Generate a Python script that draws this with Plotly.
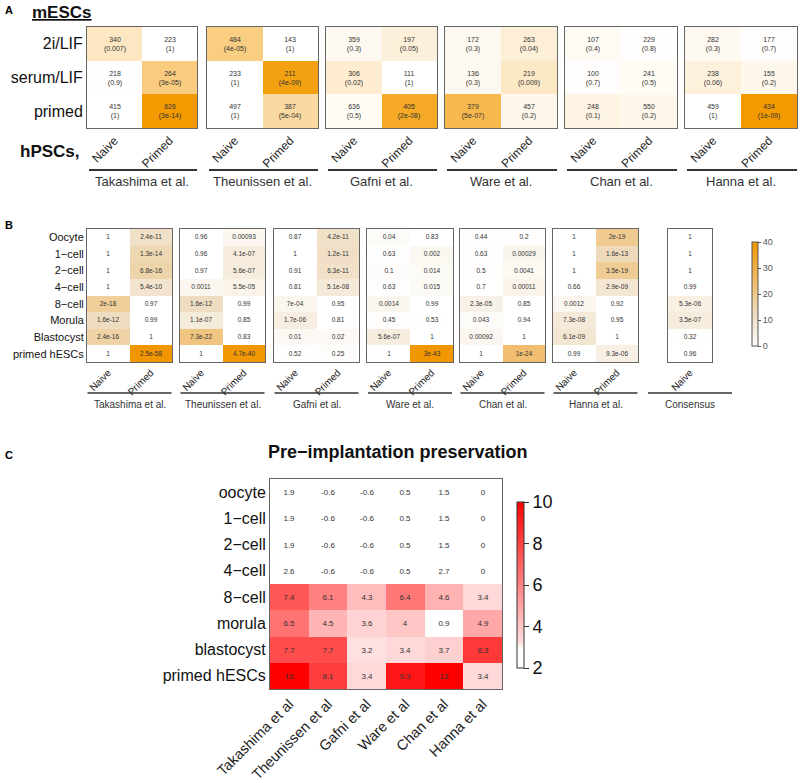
import math
import plotly.graph_objects as go

W, H = 800, 783
FONT = "Liberation Sans, Arial, sans-serif"


def fx(px):
    return px / W


def fy(py):
    return 1 - py / H


# ---------------- Panel A data ----------------
A_rows = ["2i/LIF", "serum/LIF", "primed"]
A_cols = ["Naive", "Primed"]
A_studies = ["Takashima et al.", "Theunissen et al.", "Gafni et al.",
             "Ware et al.", "Chan et al.", "Hanna et al."]
A_counts_takashima = [[340, 223], [218, 264], [415, 626]]
A_pvals_takashima = [["0.007", "1"], ["0.9", "3e-05"], ["1", "3e-14"]]
A_counts_theunissen = [[484, 143], [233, 211], [497, 387]]
A_pvals_theunissen = [["4e-05", "1"], ["1", "4e-09"], ["1", "5e-04"]]
A_counts_gafni = [[359, 197], [306, 111], [636, 405]]
A_pvals_gafni = [["0.3", "0.05"], ["0.02", "1"], ["0.5", "2e-08"]]
A_counts_ware = [[172, 263], [136, 219], [379, 457]]
A_pvals_ware = [["0.3", "0.04"], ["0.3", "0.009"], ["5e-07", "0.2"]]
A_counts_chan = [[107, 229], [100, 241], [248, 550]]
A_pvals_chan = [["0.4", "0.8"], ["0.7", "0.5"], ["0.1", "0.2"]]
A_counts_hanna = [[282, 177], [238, 155], [459, 434]]
A_pvals_hanna = [["0.3", "0.7"], ["0.06", "0.2"], ["1", "1e-09"]]

A_counts = [A_counts_takashima, A_counts_theunissen, A_counts_gafni,
            A_counts_ware, A_counts_chan, A_counts_hanna]
A_pvals = [A_pvals_takashima, A_pvals_theunissen, A_pvals_gafni,
           A_pvals_ware, A_pvals_chan, A_pvals_hanna]

# ---------------- Panel B data ----------------
B_rows = ["Oocyte", "1\u2212cell", "2\u2212cell", "4\u2212cell", "8\u2212cell",
          "Morula", "Blastocyst", "primed hESCs"]
B_studies = ["Takashima et al.", "Theunissen et al.", "Gafni et al.",
             "Ware et al.", "Chan et al.", "Hanna et al.", "Consensus"]
B_takashima_naive = ["1", "1", "1", "1", "2e-18", "1.6e-12", "2.4e-16", "1"]
B_takashima_primed = ["2.4e-11", "1.3e-14", "6.8e-16", "5.4e-10", "0.97", "0.99", "1", "2.5e-58"]
B_theunissen_naive = ["0.96", "0.96", "0.97", "0.0011", "1.6e-12", "1.1e-07", "7.3e-22", "1"]
B_theunissen_primed = ["0.00093", "4.1e-07", "5.6e-07", "5.5e-05", "0.99", "0.85", "0.83", "4.7e-40"]
B_gafni_naive = ["0.87", "1", "0.91", "0.81", "7e-04", "1.7e-06", "0.01", "0.52"]
B_gafni_primed = ["4.2e-11", "1.2e-11", "6.3e-11", "5.1e-08", "0.95", "0.81", "0.02", "0.25"]
B_ware_naive = ["0.04", "0.63", "0.1", "0.63", "0.0014", "0.45", "5.6e-07", "1"]
B_ware_primed = ["0.83", "0.002", "0.014", "0.015", "0.99", "0.53", "1", "3e-43"]
B_chan_naive = ["0.44", "0.63", "0.5", "0.7", "2.3e-05", "0.043", "0.00092", "1"]
B_chan_primed = ["0.2", "0.00029", "0.0041", "0.00011", "0.85", "0.94", "1", "1e-24"]
B_hanna_naive = ["1", "1", "1", "0.66", "0.0012", "7.3e-08", "6.1e-09", "0.99"]
B_hanna_primed = ["2e-19", "1.6e-13", "3.5e-19", "2.9e-09", "0.92", "0.95", "1", "9.3e-06"]
B_consensus_naive = ["1", "1", "1", "0.99", "5.3e-06", "3.5e-07", "0.32", "0.96"]

B_data = [
    (["Naive", "Primed"], [B_takashima_naive, B_takashima_primed]),
    (["Naive", "Primed"], [B_theunissen_naive, B_theunissen_primed]),
    (["Naive", "Primed"], [B_gafni_naive, B_gafni_primed]),
    (["Naive", "Primed"], [B_ware_naive, B_ware_primed]),
    (["Naive", "Primed"], [B_chan_naive, B_chan_primed]),
    (["Naive", "Primed"], [B_hanna_naive, B_hanna_primed]),
    (["Naive"], [B_consensus_naive]),
]

# ---------------- Panel C data ----------------
C_rows = ["oocyte", "1\u2212cell", "2\u2212cell", "4\u2212cell", "8\u2212cell",
          "morula", "blastocyst", "primed hESCs"]
C_cols = ["Takashima et al", "Theunissen et al", "Gafni et al",
          "Ware et al", "Chan et al", "Hanna et al"]
C_values = [
    [1.9, -0.6, -0.6, 0.5, 1.5, 0],
    [1.9, -0.6, -0.6, 0.5, 1.5, 0],
    [1.9, -0.6, -0.6, 0.5, 1.5, 0],
    [2.6, -0.6, -0.6, 0.5, 2.7, 0],
    [7.4, 6.1, 4.3, 6.4, 4.6, 3.4],
    [6.5, 4.5, 3.6, 4, 0.9, 4.9],
    [7.7, 7.7, 3.2, 3.4, 3.7, 8.3],
    [15, 8.1, 3.4, 9.3, 13, 3.4],
]

# ---------------- layout geometry (pixels) ----------------
A_boxes = [(87, 197), (207, 318), (326, 437), (445, 557), (565, 677), (685, 797)]
A_y = (27, 128)
B_boxes = [(87, 172), (180, 265), (274, 359), (367, 453), (460, 545), (553, 638), (668, 712)]
B_y = (229, 362)
C_box = (270, 502)
C_y = (479, 689)

fig = go.Figure()
layout = {}
counter = [0]


def add_heat(z, text, xcats, ycats, xbox, ybox, coloraxis, showy,
             xfont, yfont, textsize, linecolor):
    counter[0] += 1
    n = counter[0]
    sfx = "" if n == 1 else str(n)
    fig.add_trace(go.Heatmap(
        z=z, x=xcats, y=ycats, text=text, texttemplate="%{text}",
        textfont=dict(size=textsize, color="#333333", family=FONT),
        coloraxis=coloraxis, xaxis="x" + sfx, yaxis="y" + sfx,
        hoverinfo="skip"))
    layout["xaxis" + sfx] = dict(
        domain=[fx(xbox[0]), fx(xbox[1])], anchor="y" + sfx, type="category",
        showline=True, mirror=True, linecolor=linecolor, linewidth=1,
        ticks="", tickangle=-45, tickfont=dict(size=xfont, color="#222", family=FONT),
        showgrid=False, zeroline=False, fixedrange=True)
    layout["yaxis" + sfx] = dict(
        domain=[fy(ybox[1]), fy(ybox[0])], anchor="x" + sfx, type="category",
        autorange="reversed", showline=True, mirror=True, linecolor=linecolor,
        linewidth=1, ticks="", showticklabels=showy,
        tickfont=dict(size=yfont, color="#111", family=FONT),
        showgrid=False, zeroline=False, fixedrange=True)


# Panel A heatmaps
for i, (counts, pv) in enumerate(zip(A_counts, A_pvals)):
    z = [[-math.log10(float(p)) for p in row] for row in pv]
    text = [[f"{c}<br>({p})" for c, p in zip(crow, prow)] for crow, prow in zip(counts, pv)]
    add_heat(z, text, A_cols, A_rows, A_boxes[i], A_y, "coloraxis", i == 0,
             12, 16, 7, "#666")

# Panel B heatmaps
for i, (cols, colvals) in enumerate(B_data):
    z = [[-math.log10(float(colvals[c][r])) for c in range(len(cols))] for r in range(len(B_rows))]
    text = [[colvals[c][r] for c in range(len(cols))] for r in range(len(B_rows))]
    add_heat(z, text, cols, B_rows, B_boxes[i], B_y, "coloraxis2", i == 0,
             10, 11, 6.5, "#666")

# Panel C heatmap
C_text = [[f"{v:g}" for v in row] for row in C_values]
add_heat(C_values, C_text, C_cols, C_rows, C_box, C_y, "coloraxis3", True,
         14.5, 16, 8, "#666")

shapes = []
annotations = []


def note(text, x, y, size, color="#333", xanchor="center"):
    annotations.append(dict(text=text, xref="paper", yref="paper", x=fx(x), y=fy(y),
                            xanchor=xanchor, yanchor="middle", showarrow=False,
                            font=dict(size=size, color=color, family=FONT)))


# study labels & underline for panel A
for (x0, x1), name in zip(A_boxes, A_studies):
    shapes.append(dict(type="line", xref="paper", yref="paper",
                       x0=fx(x0 + 2), x1=fx(x1), y0=fy(170), y1=fy(170),
                       line=dict(color="#333", width=2)))
    note(name, (x0 + x1) / 2, 181, 13)

# study labels & underline for panel B
for (x0, x1), name in zip(B_boxes, B_studies):
    c = (x0 + x1) / 2
    shapes.append(dict(type="line", xref="paper", yref="paper",
                       x0=fx(c - 42), x1=fx(c + 42), y0=fy(393), y1=fy(393),
                       line=dict(color="#333", width=1.5)))
    note(name, c, 404, 10)

# other texts
note("<b>A</b>", 3, 10, 11, "#000", "left")
note("<b>B</b>", 3, 225, 11, "#000", "left")
note("<b>C</b>", 3, 455, 11, "#000", "left")
note("<b><u>mESCs</u></b>", 30, 12, 17, "#111", "left")
note("<b>hPSCs,</b>", 18, 152, 17, "#111", "left")
note("<b>Pre\u2212implantation preservation</b>", 398, 452, 18, "#111")

layout.update(
    width=W, height=H,
    margin=dict(l=0, r=0, t=0, b=0, autoexpand=False),
    paper_bgcolor="white", plot_bgcolor="white",
    font=dict(family=FONT),
    showlegend=False,
    shapes=shapes, annotations=annotations,
    coloraxis=dict(cmin=0, cmax=9, colorscale=[[0, "#FFFFFF"], [1, "#F39A00"]],
                   showscale=False),
    coloraxis2=dict(cmin=0, cmax=40, colorscale=[[0, "#FFFFFF"], [0.3, "#EEDCC0"], [1, "#F29600"]],
                    colorbar=dict(x=fx(742), xanchor="left", y=fy(232), yanchor="top",
                                  len=124, lenmode="pixels", thickness=6,
                                  outlinewidth=1, outlinecolor="#555",
                                  tickvals=[0, 10, 20, 30, 40], ticks="outside",
                                  ticklen=3, tickcolor="#555",
                                  tickfont=dict(size=9, color="#555", family=FONT))),
    coloraxis3=dict(cmin=2, cmax=10,
                    colorscale=[[0, "#FFFFFF"], [0.12, "#FFFFFF"], [0.15, "#FFE0E0"],
                                [1, "#FF0000"]],
                    colorbar=dict(x=fx(507), xanchor="left", y=fy(492), yanchor="top",
                                  len=186, lenmode="pixels", thickness=7,
                                  outlinewidth=1, outlinecolor="#333",
                                  tickvals=[2, 4, 6, 8, 10], ticks="outside",
                                  ticklen=5, tickcolor="#333",
                                  tickfont=dict(size=18, color="#111", family=FONT))),
)

fig.update_layout(**layout)
fig.write_html("out.html", config={"displayModeBar": False},
               post_script="document.body.style.margin='0';document.body.style.overflow='hidden';")
